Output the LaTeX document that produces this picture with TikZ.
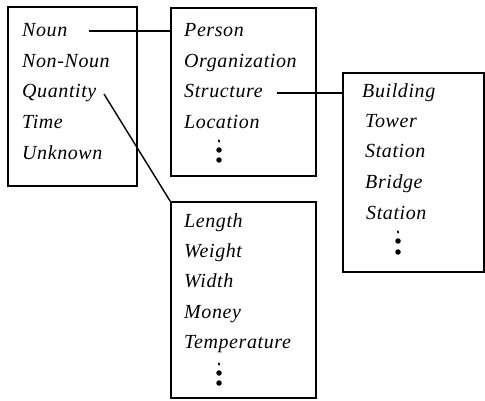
\documentclass[tikz,border=0pt]{standalone}
\usepackage{fontspec}
\usetikzlibrary{shapes.geometric}
\setmainfont{Liberation Serif}[LetterSpace=3]
\begin{document}
\begin{tikzpicture}[x=1pt,y=-1pt,
  box/.style={draw,line width=1.6pt,inner sep=0pt},
  lbl/.style={anchor=base west,inner sep=0pt,font=\fontsize{20}{24}\selectfont\itshape},
  conn/.style={line width=1.4pt},
  bigdot/.style={fill,circle,inner sep=0pt,minimum size=5.5pt},
  smalldot/.style={fill,ellipse,inner sep=0pt,minimum width=2.2pt,minimum height=3.5pt,rotate=30}]
\useasboundingbox (0,0) rectangle (485,401);
% boxes
\node[box,minimum width=129pt,minimum height=179pt] (b1) at (72.5,96.5) {};
\node[box,minimum width=145pt,minimum height=168pt] (b2) at (243.5,92) {};
\node[box,minimum width=141pt,minimum height=199pt] (b3) at (413.5,172.5) {};
\node[box,minimum width=145pt,minimum height=196pt] (b4) at (243.5,300) {};
% box 1
\node[lbl] (noun) at (22,37) {Noun};
\node[lbl] (nonnoun) at (22,68) {Non-Noun};
\node[lbl] (qty) at (22,98) {Quantity};
\node[lbl] (time) at (22,129) {Time};
\node[lbl] (unk) at (22,160) {Unknown};
% box 2
\node[lbl] (person) at (184,37) {Person};
\node[lbl] (org) at (184,68) {Organization};
\node[lbl] (struct) at (184,98) {Structure};
\node[lbl] (loc) at (184,129) {Location};
\node[smalldot] (d2a) at (219,141) {};
\node[bigdot] (d2b) at (219,150) {};
\node[bigdot] (d2c) at (219,160) {};
% box 3
\node[lbl] (build) at (362,98) {Building};
\node[lbl] (tower) at (365,128) {Tower};
\node[lbl] (stat1) at (365,158) {Station};
\node[lbl] (bridge) at (365,189) {Bridge};
\node[lbl] (stat2) at (366,219) {Station};
\node[smalldot] (d3a) at (398,232) {};
\node[bigdot] (d3b) at (398,241) {};
\node[bigdot] (d3c) at (398,252) {};
% box 4
\node[lbl] (len) at (184,227) {Length};
\node[lbl] (wgt) at (184,257) {Weight};
\node[lbl] (wid) at (184,287) {Width};
\node[lbl] (mon) at (184,318) {Money};
\node[lbl] (temp) at (184,348) {Temperature};
\node[smalldot] (d4a) at (219,364) {};
\node[bigdot] (d4b) at (219,373) {};
\node[bigdot] (d4c) at (219,383) {};
% connectors
\coordinate (nounend) at (89,31);
\coordinate (structend) at (277,93);
\coordinate (qtyend) at (104,94);
\draw[conn] (nounend) -- (nounend -| b2.west);
\draw[conn] (structend) -- (structend -| b3.west);
\draw[conn] (qtyend) -- (b4.north west);
\end{tikzpicture}
\end{document}
